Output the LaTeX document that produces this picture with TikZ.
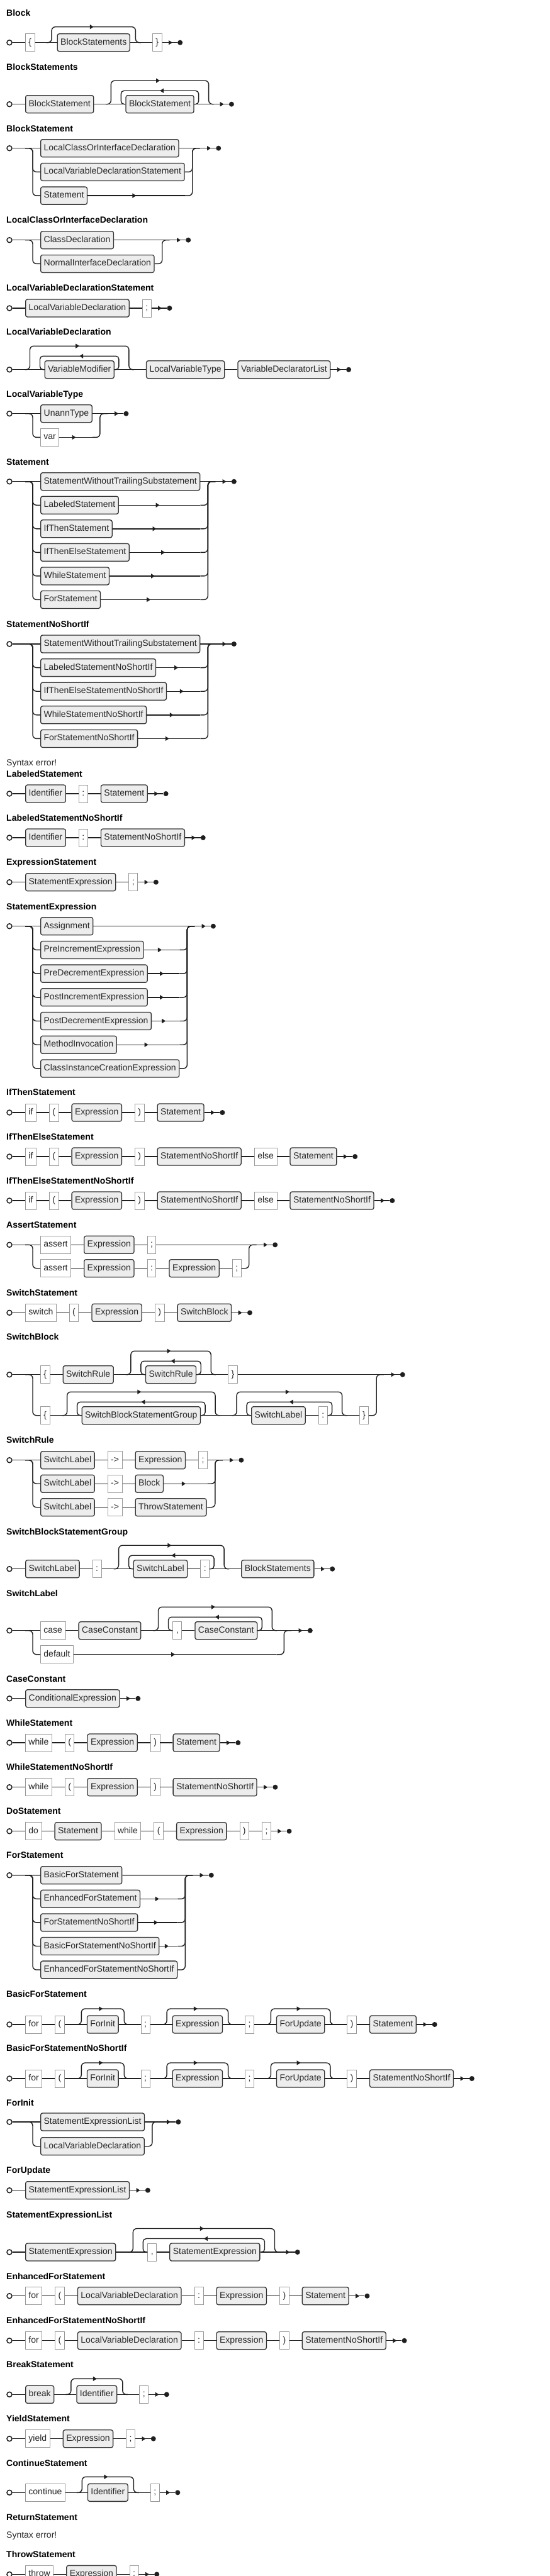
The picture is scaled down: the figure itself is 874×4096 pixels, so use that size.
\documentclass[tikz,border=0pt]{standalone}
\usepackage{fontspec}
\setmainfont{Liberation Sans}
\usetikzlibrary{arrows.meta, calc, decorations.markings, positioning}
\tikzset{
>={Triangle[length=6pt,width=7pt]}, % small filled heads on the rails
node distance=20pt, % gap between two items of a row
rail/.style={draw=black!88, line width=1.4pt},
railbox/.style={minimum height=28pt, inner xsep=5pt, inner ysep=0pt, text height=10pt, text depth=3pt, text=black!85, font=\fontsize{14}{17}\selectfont},
nt/.style={railbox, draw=black!80, line width=1.3pt, fill=black!7, rounded corners=3pt}, % rule names
tm/.style={railbox, draw=black!40, line width=0.9pt, fill=white}, % literal tokens
rulename/.style={anchor=base west, inner sep=0pt, font=\bfseries\fontsize{14}{17}\selectfont},
errtext/.style={anchor=base west, inner sep=0pt, text=black!85, font=\fontsize{14}{17}\selectfont},
startpt/.style={circle, draw=black!88, line width=1.5pt, fill=white, minimum size=8pt, inner sep=0pt},
endpt/.style={circle, fill=black!88, minimum size=8pt, inner sep=0pt},
midarr/.style={postaction={decorate}, decoration={markings, mark=at position 0.5 with {\arrow{>}}}},
endarr/.style={postaction={decorate}, decoration={markings, mark=at position -8pt with {\arrow{>}}}},
}
% bypass over the items #1..#2
\newcommand{\optover}[2]{\draw[rail, rounded corners=6pt, midarr] ($(#1.west)+(-17,0)$) -- ++(8.5,0) -- ++(0,-25) -| ($(#2.east)+(8.5,0)$) -- ++(8.5,0);}
% bypass and loop back over the items #1..#2
\newcommand{\loopover}[2]{%
\draw[rail, rounded corners=6pt, midarr] ($(#1.west)+(-31,0)$) -- ++(8,0) -- ++(0,-37.5) -| ($(#2.east)+(23,0)$) -- ++(8,0);
\draw[rail, rounded corners=5pt, midarr] (#2.east) -- ++(7,0) -- ++(0,-21.5) -| ($(#1.west)+(-7,0)$) -- (#1.west);}
% lower rows of a choice
\newcommand{\branchin}[2]{\draw[rail, rounded corners=6pt] (#1) -- ++(12,0) |- (#2.west);}
\newcommand{\branchout}[3][]{%
\draw[rail, #1] (#2.east) -- (#2.east -| #3);
\draw[rail, rounded corners=6pt] (#2.east -| #3) -- ++(12,0) |- ($(#3)+(24,0)$);}

\begin{document}
\begin{tikzpicture}[x=1pt, y=-1pt]
\path[use as bounding box, fill=white] (0,0) rectangle (874,4096);

% Block
\node[rulename] (tbk) at (10,25) {Block};
\node[startpt] (bk0) at (15,67.7) {};
\node[tm, anchor=west] (bk1) at (40,67.7) {\{};
\node[nt, right=35pt of bk1] (bk2) {BlockStatements};
\node[tm, right=35pt of bk2] (bk3) {\}};
\node[endpt, right=24.5pt of bk3] (bk4) {};
\path[rail] (bk0) edge (bk1) (bk1) edge (bk2) (bk2) edge (bk3);
\draw[rail, endarr] (bk3) -- (bk4);
\optover{bk2}{bk2}

% BlockStatements
\node[rulename] (tbs) at (10,111) {BlockStatements};
\node[startpt] (bs0) at (15,165.7) {};
\node[nt, anchor=west] (bs1) at (40,165.7) {BlockStatement};
\node[nt, right=50pt of bs1] (bs2) {BlockStatement};
\node[endpt, right=55pt of bs2] (bs3) {};
\path[rail] (bs0) edge (bs1) (bs1) edge (bs2);
\draw[rail, endarr] (bs2) -- (bs3);
\loopover{bs2}{bs2}

% BlockStatement
\node[rulename] (tbt) at (10,209) {BlockStatement};
\node[startpt] (bt0) at (15,235.7) {};
\foreach \lbl [count=\i] in {LocalClassOrInterfaceDeclaration, LocalVariableDeclarationStatement, Statement}
  \node[nt, anchor=west] (bt\i) at (64,198+37.7*\i) {\lbl};
\coordinate (btj) at (bt0 -| bt2.east);
\node[endpt] (bt4) at ($(btj)+(53.5,0)$) {};
\draw[rail] (bt0) -- (bt1);
\draw[rail, endarr] (bt1) -- (bt4);
\foreach \i in {2,3} {\branchin{40,235.7}{bt\i}}
\branchout{bt2}{btj}
\branchout[midarr]{bt3}{btj}

% LocalClassOrInterfaceDeclaration
\node[rulename] (tlc) at (10,354) {LocalClassOrInterfaceDeclaration};
\node[startpt] (lc0) at (15,381.7) {};
\foreach \lbl [count=\i] in {ClassDeclaration, NormalInterfaceDeclaration}
  \node[nt, anchor=west] (lc\i) at (64,344+37.7*\i) {\lbl};
\coordinate (lcj) at (lc0 -| lc2.east);
\node[endpt] (lc3) at ($(lcj)+(53.5,0)$) {};
\draw[rail] (lc0) -- (lc1);
\draw[rail, endarr] (lc1) -- (lc3);
\branchin{40,381.7}{lc2}
\branchout{lc2}{lcj}

% LocalVariableDeclarationStatement
\node[rulename] (tls) at (10,462) {LocalVariableDeclarationStatement};
\node[startpt] (ls0) at (15,490) {};
\node[nt, anchor=west] (ls1) at (40,490) {LocalVariableDeclaration};
\node[tm, right=of ls1] (ls2) {;};
\node[endpt, right=24.5pt of ls2] (ls3) {};
\path[rail] (ls0) edge (ls1) (ls1) edge (ls2);
\draw[rail, endarr] (ls2) -- (ls3);

% LocalVariableDeclaration
\node[rulename] (tlv) at (10,532) {LocalVariableDeclaration};
\node[startpt] (lv0) at (15,587.7) {};
\node[nt, anchor=west] (lv1) at (70.5,587.7) {VariableModifier};
\node[nt, right=50pt of lv1] (lv2) {LocalVariableType};
\node[nt, right=of lv2] (lv3) {VariableDeclaratorList};
\node[endpt, right=24.5pt of lv3] (lv4) {};
\path[rail] (lv0) edge (lv1) (lv1) edge (lv2) (lv2) edge (lv3);
\draw[rail, endarr] (lv3) -- (lv4);
\loopover{lv1}{lv1}

% LocalVariableType
\node[rulename] (tlt) at (10,631) {LocalVariableType};
\node[startpt] (lt0) at (15,657.7) {};
\node[nt, anchor=west] (lt1) at (64,657.7) {UnannType};
\node[tm, anchor=west] (lt2) at (64,695.4) {var};
\coordinate (ltj) at (lt0 -| lt1.east);
\node[endpt] (lt3) at ($(ltj)+(53.5,0)$) {};
\draw[rail] (lt0) -- (lt1);
\draw[rail, endarr] (lt1) -- (lt3);
\branchin{40,657.7}{lt2}
\branchout[midarr]{lt2}{ltj}

% Statement
\node[rulename] (tst) at (10,739) {Statement};
\node[startpt] (st0) at (15,765.7) {};
\foreach \lbl [count=\i] in {StatementWithoutTrailingSubstatement, LabeledStatement, IfThenStatement, IfThenElseStatement, WhileStatement, ForStatement}
  \node[nt, anchor=west] (st\i) at (64,728.15+37.55*\i) {\lbl};
\coordinate (stj) at (st0 -| st1.east);
\node[endpt] (st7) at ($(stj)+(53.5,0)$) {};
\draw[rail] (st0) -- (st1);
\draw[rail, endarr] (st1) -- (st7);
\foreach \i in {2,...,6} {\branchin{40,765.7}{st\i} \branchout[midarr]{st\i}{stj}}

% StatementNoShortIf
\node[rulename] (tsn) at (10,997) {StatementNoShortIf};
\node[startpt] (sn0) at (15,1024) {};
\foreach \lbl [count=\i] in {StatementWithoutTrailingSubstatement, LabeledStatementNoShortIf, IfThenElseStatementNoShortIf, WhileStatementNoShortIf, ForStatementNoShortIf}
  \node[nt, anchor=west] (sn\i) at (64,986.4+37.6*\i) {\lbl};
\coordinate (snj) at (sn0 -| sn1.east);
\node[endpt] (sn6) at ($(snj)+(53.5,0)$) {};
\draw[rail] (sn0) -- (sn1);
\draw[rail, endarr] (sn1) -- (sn6);
\foreach \i in {2,...,5} {\branchin{40,1024}{sn\i} \branchout[midarr]{sn\i}{snj}}

\node[errtext] (err1) at (10,1217.5) {Syntax error!};

% LabeledStatement
\node[rulename] (tlb) at (10,1235) {LabeledStatement};
\node[startpt] (lb0) at (15,1262) {};
\node[nt, anchor=west] (lb1) at (40,1262) {Identifier};
\node[tm, right=of lb1] (lb2) {:};
\node[nt, right=of lb2] (lb3) {Statement};
\node[endpt, right=24.5pt of lb3] (lb4) {};
\path[rail] (lb0) edge (lb1) (lb1) edge (lb2) (lb2) edge (lb3);
\draw[rail, endarr] (lb3) -- (lb4);

% LabeledStatementNoShortIf
\node[rulename] (tln) at (10,1305) {LabeledStatementNoShortIf};
\node[startpt] (ln0) at (15,1332) {};
\node[nt, anchor=west] (ln1) at (40,1332) {Identifier};
\node[tm, right=of ln1] (ln2) {:};
\node[nt, right=of ln2] (ln3) {StatementNoShortIf};
\node[endpt, right=24.5pt of ln3] (ln4) {};
\path[rail] (ln0) edge (ln1) (ln1) edge (ln2) (ln2) edge (ln3);
\draw[rail, endarr] (ln3) -- (ln4);

% ExpressionStatement
\node[rulename] (tes) at (10,1375) {ExpressionStatement};
\node[startpt] (es0) at (15,1402.7) {};
\node[nt, anchor=west] (es1) at (40,1402.7) {StatementExpression};
\node[tm, right=of es1] (es2) {;};
\node[endpt, right=24.5pt of es2] (es3) {};
\path[rail] (es0) edge (es1) (es1) edge (es2);
\draw[rail, endarr] (es2) -- (es3);

% StatementExpression
\node[rulename] (tsx) at (10,1446.7) {StatementExpression};
\node[startpt] (sx0) at (15,1472.7) {};
\foreach \lbl [count=\i] in {Assignment, PreIncrementExpression, PreDecrementExpression, PostIncrementExpression, PostDecrementExpression, MethodInvocation, ClassInstanceCreationExpression}
  \node[nt, anchor=west] (sx\i) at (64,1435+37.7*\i) {\lbl};
\coordinate (sxj) at (sx0 -| sx7.east);
\node[endpt] (sx8) at ($(sxj)+(53.5,0)$) {};
\draw[rail] (sx0) -- (sx1);
\draw[rail, endarr] (sx1) -- (sx8);
\foreach \i in {2,...,7} {\branchin{40,1472.7}{sx\i}}
\foreach \i in {2,...,6} {\branchout[midarr]{sx\i}{sxj}}
\branchout{sx7}{sxj}

% IfThenStatement
\node[rulename] (tit) at (10,1741.7) {IfThenStatement};
\node[startpt] (it0) at (15,1769) {};
\node[tm, anchor=west] (it1) at (40,1769) {if};
\node[tm, right=of it1] (it2) {(};
\node[nt, right=of it2] (it3) {Expression};
\node[tm, right=of it3] (it4) {)};
\node[nt, right=of it4] (it5) {Statement};
\node[endpt, right=24.5pt of it5] (it6) {};
\path[rail] (it0) edge (it1) (it1) edge (it2) (it2) edge (it3) (it3) edge (it4) (it4) edge (it5);
\draw[rail, endarr] (it5) -- (it6);

% IfThenElseStatement
\node[rulename] (tie) at (10,1812) {IfThenElseStatement};
\node[startpt] (ie0) at (15,1839) {};
\node[tm, anchor=west] (ie1) at (40,1839) {if};
\node[tm, right=of ie1] (ie2) {(};
\node[nt, right=of ie2] (ie3) {Expression};
\node[tm, right=of ie3] (ie4) {)};
\node[nt, right=of ie4] (ie5) {StatementNoShortIf};
\node[tm, right=of ie5] (ie6) {else};
\node[nt, right=of ie6] (ie7) {Statement};
\node[endpt, right=24.5pt of ie7] (ie8) {};
\path[rail] (ie0) edge (ie1) (ie1) edge (ie2) (ie2) edge (ie3) (ie3) edge (ie4) (ie4) edge (ie5) (ie5) edge (ie6) (ie6) edge (ie7);
\draw[rail, endarr] (ie7) -- (ie8);

% IfThenElseStatementNoShortIf
\node[rulename] (tiz) at (10,1882) {IfThenElseStatementNoShortIf};
\node[startpt] (iz0) at (15,1909) {};
\node[tm, anchor=west] (iz1) at (40,1909) {if};
\node[tm, right=of iz1] (iz2) {(};
\node[nt, right=of iz2] (iz3) {Expression};
\node[tm, right=of iz3] (iz4) {)};
\node[nt, right=of iz4] (iz5) {StatementNoShortIf};
\node[tm, right=of iz5] (iz6) {else};
\node[nt, right=of iz6] (iz7) {StatementNoShortIf};
\node[endpt, right=24.5pt of iz7] (iz8) {};
\path[rail] (iz0) edge (iz1) (iz1) edge (iz2) (iz2) edge (iz3) (iz3) edge (iz4) (iz4) edge (iz5) (iz5) edge (iz6) (iz6) edge (iz7);
\draw[rail, endarr] (iz7) -- (iz8);

% AssertStatement
\node[rulename] (tas) at (10,1952) {AssertStatement};
\node[startpt] (as0) at (15,1979.3) {};
\node[tm, anchor=west] (as1) at (64,1979.3) {assert};
\node[nt, right=of as1] (as2) {Expression};
\node[tm, right=of as2] (as3) {;};
\node[tm, anchor=west] (as4) at (64,2016.7) {assert};
\node[nt, right=of as4] (as5) {Expression};
\node[tm, right=of as5] (as6) {:};
\node[nt, right=of as6] (as7) {Expression};
\node[tm, right=of as7] (as8) {;};
\coordinate (asj) at (as0 -| as8.east);
\node[endpt] (as9) at ($(asj)+(53.5,0)$) {};
\path[rail] (as0) edge (as1) (as1) edge (as2) (as2) edge (as3) (as4) edge (as5) (as5) edge (as6) (as6) edge (as7) (as7) edge (as8);
\draw[rail, endarr] (as3) -- (as9);
\branchin{40,1979.3}{as4}
\branchout{as8}{asj}

% SwitchStatement
\node[rulename] (tss) at (10,2060) {SwitchStatement};
\node[startpt] (ss0) at (15,2087.3) {};
\node[tm, anchor=west] (ss1) at (40,2087.3) {switch};
\node[tm, right=of ss1] (ss2) {(};
\node[nt, right=of ss2] (ss3) {Expression};
\node[tm, right=of ss3] (ss4) {)};
\node[nt, right=of ss4] (ss5) {SwitchBlock};
\node[endpt, right=24.5pt of ss5] (ss6) {};
\path[rail] (ss0) edge (ss1) (ss1) edge (ss2) (ss2) edge (ss3) (ss3) edge (ss4) (ss4) edge (ss5);
\draw[rail, endarr] (ss5) -- (ss6);

% SwitchBlock
\node[rulename] (tsb) at (10,2130.7) {SwitchBlock};
\node[startpt] (sb0) at (15,2185.7) {};
\node[tm, anchor=west] (sb1) at (64,2185.7) {\{};
\node[nt, right=of sb1] (sb2) {SwitchRule};
\node[nt, right=50pt of sb2] (sb3) {SwitchRule};
\node[tm, right=50pt of sb3] (sb4) {\}};
\node[tm, anchor=west] (sb5) at (64,2250.7) {\{};
\node[nt, right=50pt of sb5] (sb6) {SwitchBlockStatementGroup};
\node[nt, right=80pt of sb6] (sb7) {SwitchLabel};
\node[tm, right=of sb7] (sb8) {:};
\node[tm, right=50pt of sb8] (sb9) {\}};
\coordinate (sbj) at (sb0 -| sb9.east);
\node[endpt] (sb10) at ($(sbj)+(53.5,0)$) {};
\path[rail] (sb0) edge (sb1) (sb1) edge (sb2) (sb2) edge (sb3) (sb3) edge (sb4) (sb5) edge (sb6) (sb6) edge (sb7) (sb7) edge (sb8) (sb8) edge (sb9);
\draw[rail, endarr] (sb4) -- (sb10);
\loopover{sb3}{sb3}
\loopover{sb6}{sb6}
\loopover{sb7}{sb8}
\branchin{40,2185.7}{sb5}
\branchout{sb9}{sbj}

% SwitchRule
\node[rulename] (tsr) at (10,2294.3) {SwitchRule};
\node[startpt] (sr0) at (15,2321.7) {};
\node[nt, anchor=west] (sr1) at (64,2321.7) {SwitchLabel};
\node[tm, right=of sr1] (sr2) {->};
\node[nt, right=of sr2] (sr3) {Expression};
\node[tm, right=of sr3] (sr4) {;};
\node[nt, anchor=west] (sr5) at (64,2359.2) {SwitchLabel};
\node[tm, right=of sr5] (sr6) {->};
\node[nt, right=of sr6] (sr7) {Block};
\node[nt, anchor=west] (sr8) at (64,2396.7) {SwitchLabel};
\node[tm, right=of sr8] (sr9) {->};
\node[nt, right=of sr9] (sr10) {ThrowStatement};
\coordinate (srj) at (sr0 -| sr4.east);
\node[endpt] (sr11) at ($(srj)+(53.5,0)$) {};
\path[rail] (sr0) edge (sr1) (sr1) edge (sr2) (sr2) edge (sr3) (sr3) edge (sr4) (sr5) edge (sr6) (sr6) edge (sr7) (sr8) edge (sr9) (sr9) edge (sr10);
\draw[rail, endarr] (sr4) -- (sr11);
\branchin{40,2321.7}{sr5}
\branchin{40,2321.7}{sr8}
\branchout[midarr]{sr7}{srj}
\branchout{sr10}{srj}

% SwitchBlockStatementGroup
\node[rulename] (tsg) at (10,2440) {SwitchBlockStatementGroup};
\node[startpt] (sg0) at (15,2494.7) {};
\node[nt, anchor=west] (sg1) at (40,2494.7) {SwitchLabel};
\node[tm, right=of sg1] (sg2) {:};
\node[nt, right=50pt of sg2] (sg3) {SwitchLabel};
\node[tm, right=of sg3] (sg4) {:};
\node[nt, right=50pt of sg4] (sg5) {BlockStatements};
\node[endpt, right=24.5pt of sg5] (sg6) {};
\path[rail] (sg0) edge (sg1) (sg1) edge (sg2) (sg2) edge (sg3) (sg3) edge (sg4) (sg4) edge (sg5);
\draw[rail, endarr] (sg5) -- (sg6);
\loopover{sg3}{sg4}

% SwitchLabel
\node[rulename] (tsl) at (10,2538.3) {SwitchLabel};
\node[startpt] (sl0) at (15,2592.7) {};
\node[tm, anchor=west] (sl1) at (64,2592.7) {case};
\node[nt, right=of sl1] (sl2) {CaseConstant};
\node[tm, right=50pt of sl2] (sl3) {,};
\node[nt, right=of sl3] (sl4) {CaseConstant};
\node[tm, anchor=west] (sl5) at (64,2630.7) {default};
\coordinate (slw) at (sl0 -| sl4.east);
\coordinate (slj) at ($(slw)+(30,0)$);
\node[endpt] (sl6) at ($(slj)+(53.5,0)$) {};
\path[rail] (sl0) edge (sl1) (sl1) edge (sl2) (sl2) edge (sl3) (sl3) edge (sl4);
\draw[rail, endarr] (sl4) -- (sl6);
\loopover{sl3}{sl4}
\branchin{40,2592.7}{sl5}
\branchout[midarr]{sl5}{slj}

% CaseConstant
\node[rulename] (tcc) at (10,2674.3) {CaseConstant};
\node[startpt] (cc0) at (15,2700.7) {};
\node[nt, anchor=west] (cc1) at (40,2700.7) {ConditionalExpression};
\node[endpt, right=24.5pt of cc1] (cc2) {};
\path[rail] (cc0) edge (cc1);
\draw[rail, endarr] (cc1) -- (cc2);

% WhileStatement
\node[rulename] (tws) at (10,2744) {WhileStatement};
\node[startpt] (ws0) at (15,2771) {};
\node[tm, anchor=west] (ws1) at (40,2771) {while};
\node[tm, right=of ws1] (ws2) {(};
\node[nt, right=of ws2] (ws3) {Expression};
\node[tm, right=of ws3] (ws4) {)};
\node[nt, right=of ws4] (ws5) {Statement};
\node[endpt, right=24.5pt of ws5] (ws6) {};
\path[rail] (ws0) edge (ws1) (ws1) edge (ws2) (ws2) edge (ws3) (ws3) edge (ws4) (ws4) edge (ws5);
\draw[rail, endarr] (ws5) -- (ws6);

% WhileStatementNoShortIf
\node[rulename] (twn) at (10,2814.3) {WhileStatementNoShortIf};
\node[startpt] (wn0) at (15,2841.7) {};
\node[tm, anchor=west] (wn1) at (40,2841.7) {while};
\node[tm, right=of wn1] (wn2) {(};
\node[nt, right=of wn2] (wn3) {Expression};
\node[tm, right=of wn3] (wn4) {)};
\node[nt, right=of wn4] (wn5) {StatementNoShortIf};
\node[endpt, right=24.5pt of wn5] (wn6) {};
\path[rail] (wn0) edge (wn1) (wn1) edge (wn2) (wn2) edge (wn3) (wn3) edge (wn4) (wn4) edge (wn5);
\draw[rail, endarr] (wn5) -- (wn6);

% DoStatement
\node[rulename] (tds) at (10,2884.3) {DoStatement};
\node[startpt] (ds0) at (15,2911.7) {};
\node[tm, anchor=west] (ds1) at (40,2911.7) {do};
\node[nt, right=of ds1] (ds2) {Statement};
\node[tm, right=of ds2] (ds3) {while};
\node[tm, right=of ds3] (ds4) {(};
\node[nt, right=of ds4] (ds5) {Expression};
\node[tm, right=of ds5] (ds6) {)};
\node[tm, right=of ds6] (ds7) {;};
\node[endpt, right=24.5pt of ds7] (ds8) {};
\path[rail] (ds0) edge (ds1) (ds1) edge (ds2) (ds2) edge (ds3) (ds3) edge (ds4) (ds4) edge (ds5) (ds5) edge (ds6) (ds6) edge (ds7);
\draw[rail, endarr] (ds7) -- (ds8);

% ForStatement
\node[rulename] (tfs) at (10,2954.3) {ForStatement};
\node[startpt] (fs0) at (15,2981.7) {};
\foreach \lbl [count=\i] in {BasicForStatement, EnhancedForStatement, ForStatementNoShortIf, BasicForStatementNoShortIf, EnhancedForStatementNoShortIf}
  \node[nt, anchor=west] (fs\i) at (64,2944.1+37.6*\i) {\lbl};
\coordinate (fsj) at (fs0 -| fs5.east);
\node[endpt] (fs6) at ($(fsj)+(53.5,0)$) {};
\draw[rail] (fs0) -- (fs1);
\draw[rail, endarr] (fs1) -- (fs6);
\foreach \i in {2,...,5} {\branchin{40,2981.7}{fs\i}}
\foreach \i in {2,...,4} {\branchout[midarr]{fs\i}{fsj}}
\branchout{fs5}{fsj}

% BasicForStatement
\node[rulename] (tbf) at (10,3175) {BasicForStatement};
\node[startpt] (bf0) at (15,3219) {};
\node[tm, anchor=west] (bf1) at (40,3219) {for};
\node[tm, right=of bf1] (bf2) {(};
\node[nt, right=35pt of bf2] (bf3) {ForInit};
\node[tm, right=35pt of bf3] (bf4) {;};
\node[nt, right=35pt of bf4] (bf5) {Expression};
\node[tm, right=35pt of bf5] (bf6) {;};
\node[nt, right=35pt of bf6] (bf7) {ForUpdate};
\node[tm, right=35pt of bf7] (bf8) {)};
\node[nt, right=of bf8] (bf9) {Statement};
\node[endpt, right=24.5pt of bf9] (bf10) {};
\path[rail] (bf0) edge (bf1) (bf1) edge (bf2) (bf2) edge (bf3) (bf3) edge (bf4) (bf4) edge (bf5) (bf5) edge (bf6) (bf6) edge (bf7) (bf7) edge (bf8) (bf8) edge (bf9);
\draw[rail, endarr] (bf9) -- (bf10);
\optover{bf3}{bf3}
\optover{bf5}{bf5}
\optover{bf7}{bf7}

% BasicForStatementNoShortIf
\node[rulename] (tbn) at (10,3261.7) {BasicForStatementNoShortIf};
\node[startpt] (bn0) at (15,3305) {};
\node[tm, anchor=west] (bn1) at (40,3305) {for};
\node[tm, right=of bn1] (bn2) {(};
\node[nt, right=35pt of bn2] (bn3) {ForInit};
\node[tm, right=35pt of bn3] (bn4) {;};
\node[nt, right=35pt of bn4] (bn5) {Expression};
\node[tm, right=35pt of bn5] (bn6) {;};
\node[nt, right=35pt of bn6] (bn7) {ForUpdate};
\node[tm, right=35pt of bn7] (bn8) {)};
\node[nt, right=of bn8] (bn9) {StatementNoShortIf};
\node[endpt, right=24.5pt of bn9] (bn10) {};
\path[rail] (bn0) edge (bn1) (bn1) edge (bn2) (bn2) edge (bn3) (bn3) edge (bn4) (bn4) edge (bn5) (bn5) edge (bn6) (bn6) edge (bn7) (bn7) edge (bn8) (bn8) edge (bn9);
\draw[rail, endarr] (bn9) -- (bn10);
\optover{bn3}{bn3}
\optover{bn5}{bn5}
\optover{bn7}{bn7}

% ForInit
\node[rulename] (tfi) at (10,3348.3) {ForInit};
\node[startpt] (fi0) at (15,3374) {};
\node[nt, anchor=west] (fi1) at (64,3374) {StatementExpressionList};
\node[nt, anchor=west] (fi2) at (64,3412.7) {LocalVariableDeclaration};
\coordinate (fij) at (fi0 -| fi2.east);
\node[endpt] (fi3) at ($(fij)+(53.5,0)$) {};
\draw[rail] (fi0) -- (fi1);
\draw[rail, endarr] (fi1) -- (fi3);
\branchin{40,3374}{fi2}
\branchout{fi2}{fij}

% ForUpdate
\node[rulename] (tfu) at (10,3455) {ForUpdate};
\node[startpt] (fu0) at (15,3482.7) {};
\node[nt, anchor=west] (fu1) at (40,3482.7) {StatementExpressionList};
\node[endpt, right=24.5pt of fu1] (fu2) {};
\path[rail] (fu0) edge (fu1);
\draw[rail, endarr] (fu1) -- (fu2);

% StatementExpressionList
\node[rulename] (tel) at (10,3526) {StatementExpressionList};
\node[startpt] (el0) at (15,3581) {};
\node[nt, anchor=west] (el1) at (40,3581) {StatementExpression};
\node[tm, right=50pt of el1] (el2) {,};
\node[nt, right=of el2] (el3) {StatementExpression};
\node[endpt, right=55pt of el3] (el4) {};
\path[rail] (el0) edge (el1) (el1) edge (el2) (el2) edge (el3);
\draw[rail, endarr] (el3) -- (el4);
\loopover{el2}{el3}

% EnhancedForStatement
\node[rulename] (tef) at (10,3624.3) {EnhancedForStatement};
\node[startpt] (ef0) at (15,3650.7) {};
\node[tm, anchor=west] (ef1) at (40,3650.7) {for};
\node[tm, right=of ef1] (ef2) {(};
\node[nt, right=of ef2] (ef3) {LocalVariableDeclaration};
\node[tm, right=of ef3] (ef4) {:};
\node[nt, right=of ef4] (ef5) {Expression};
\node[tm, right=of ef5] (ef6) {)};
\node[nt, right=of ef6] (ef7) {Statement};
\node[endpt, right=24.5pt of ef7] (ef8) {};
\path[rail] (ef0) edge (ef1) (ef1) edge (ef2) (ef2) edge (ef3) (ef3) edge (ef4) (ef4) edge (ef5) (ef5) edge (ef6) (ef6) edge (ef7);
\draw[rail, endarr] (ef7) -- (ef8);

% EnhancedForStatementNoShortIf
\node[rulename] (ten) at (10,3694.3) {EnhancedForStatementNoShortIf};
\node[startpt] (en0) at (15,3721.7) {};
\node[tm, anchor=west] (en1) at (40,3721.7) {for};
\node[tm, right=of en1] (en2) {(};
\node[nt, right=of en2] (en3) {LocalVariableDeclaration};
\node[tm, right=of en3] (en4) {:};
\node[nt, right=of en4] (en5) {Expression};
\node[tm, right=of en5] (en6) {)};
\node[nt, right=of en6] (en7) {StatementNoShortIf};
\node[endpt, right=24.5pt of en7] (en8) {};
\path[rail] (en0) edge (en1) (en1) edge (en2) (en2) edge (en3) (en3) edge (en4) (en4) edge (en5) (en5) edge (en6) (en6) edge (en7);
\draw[rail, endarr] (en7) -- (en8);

% BreakStatement
\node[rulename] (tbr) at (10,3764.3) {BreakStatement};
\node[startpt] (br0) at (15,3807.3) {};
\node[nt, anchor=west] (br1) at (40,3807.3) {break};
\node[nt, right=35pt of br1] (br2) {Identifier};
\node[tm, right=35pt of br2] (br3) {;};
\node[endpt, right=24.5pt of br3] (br4) {};
\path[rail] (br0) edge (br1) (br1) edge (br2) (br2) edge (br3);
\draw[rail, endarr] (br3) -- (br4);
\optover{br2}{br2}

% YieldStatement
\node[rulename] (tyd) at (10,3850) {YieldStatement};
\node[startpt] (yd0) at (15,3877.7) {};
\node[tm, anchor=west] (yd1) at (40,3877.7) {yield};
\node[nt, right=of yd1] (yd2) {Expression};
\node[tm, right=of yd2] (yd3) {;};
\node[endpt, right=24.5pt of yd3] (yd4) {};
\path[rail] (yd0) edge (yd1) (yd1) edge (yd2) (yd2) edge (yd3);
\draw[rail, endarr] (yd3) -- (yd4);

% ContinueStatement
\node[rulename] (tct) at (10,3921) {ContinueStatement};
\node[startpt] (ct0) at (15,3963.3) {};
\node[tm, anchor=west] (ct1) at (40,3963.3) {continue};
\node[nt, right=35pt of ct1] (ct2) {Identifier};
\node[tm, right=35pt of ct2] (ct3) {;};
\node[endpt, right=24.5pt of ct3] (ct4) {};
\path[rail] (ct0) edge (ct1) (ct1) edge (ct2) (ct2) edge (ct3);
\draw[rail, endarr] (ct3) -- (ct4);
\optover{ct2}{ct2}

% ReturnStatement
\node[rulename] (trt) at (10,4007.3) {ReturnStatement};
\node[errtext] (err2) at (10,4035) {Syntax error!};

% ThrowStatement
\node[rulename] (tth) at (10,4066.7) {ThrowStatement};
\node[startpt] (th0) at (15,4093.3) {};
\node[tm, anchor=west] (th1) at (40,4093.3) {throw};
\node[nt, right=of th1] (th2) {Expression};
\node[tm, right=of th2] (th3) {;};
\node[endpt, right=24.5pt of th3] (th4) {};
\path[rail] (th0) edge (th1) (th1) edge (th2) (th2) edge (th3);
\draw[rail, endarr] (th3) -- (th4);
\end{tikzpicture}
\end{document}
